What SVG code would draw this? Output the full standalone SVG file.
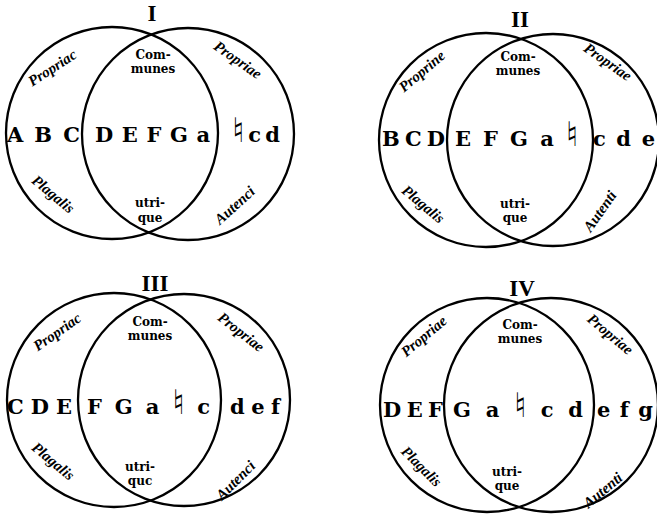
<svg xmlns="http://www.w3.org/2000/svg" width="657" height="514" viewBox="0 0 657 514">
<style>
.c{fill:none;stroke:#000;stroke-width:2.3}
.t{font-family:"Liberation Serif","DejaVu Serif",serif;font-weight:bold;font-size:23px;fill:#000;text-anchor:middle}
.n{font-family:"DejaVu Serif","Liberation Serif",serif;font-weight:bold;font-size:21px;fill:#000}
.nat{font-family:"DejaVu Sans",sans-serif;font-weight:bold;font-size:34px}
.s{font-family:"DejaVu Serif","Liberation Serif",serif;font-weight:bold;font-size:12px;fill:#000;text-anchor:middle}
.a{font-family:"Liberation Serif","DejaVu Serif",serif;font-style:italic;font-weight:bold;font-size:15px;fill:#000;text-anchor:middle}
</style>
<rect width="657" height="514" fill="#fff"/>
<g id="d1">
<circle class="c" cx="112" cy="133" r="106"/>
<circle class="c" cx="188" cy="134" r="106"/>
<text class="t" x="152" y="21">I</text>
<text class="n" x="7" y="142" textLength="73" lengthAdjust="spacing">ABC</text>
<text class="n" x="95" y="142" textLength="115" lengthAdjust="spacing">DEFGa</text>
<text class="n" x="232" y="142" textLength="48" lengthAdjust="spacing"><tspan class="nat">♮</tspan>cd</text>
<text class="s" x="153" y="59">Com-</text>
<text class="s" x="153" y="73">munes</text>
<text class="s" x="150" y="207">utri-</text>
<text class="s" x="150" y="222">que</text>
<text class="a" transform="translate(55,72) rotate(-33)">Propriac</text>
<text class="a" transform="translate(235,64) rotate(35)">Propriae</text>
<text class="a" transform="translate(50,198) rotate(40)">Plagalis</text>
<text class="a" transform="translate(238,209) rotate(-42)">Autenci</text>
</g>
<g id="d2">
<circle class="c" cx="486" cy="140" r="107"/>
<circle class="c" cx="553" cy="140" r="106"/>
<text class="t" x="520" y="27">II</text>
<text class="n" x="382" y="146" textLength="63" lengthAdjust="spacing">BCD</text>
<text class="n" x="455" y="146" textLength="123" lengthAdjust="spacing">EFGa<tspan class="nat">♮</tspan></text>
<text class="n" x="593" y="146" textLength="62" lengthAdjust="spacing">cde</text>
<text class="s" x="518" y="61">Com-</text>
<text class="s" x="518" y="75">munes</text>
<text class="s" x="515" y="208">utri-</text>
<text class="s" x="515" y="222">que</text>
<text class="a" transform="translate(425,75) rotate(-40)">Proprine</text>
<text class="a" transform="translate(605,66) rotate(35)">Propriae</text>
<text class="a" transform="translate(420,208) rotate(40)">Plagalis</text>
<text class="a" transform="translate(604,214) rotate(-55)">Autenti</text>
</g>
<g id="d3">
<circle class="c" cx="114" cy="400" r="107"/>
<circle class="c" cx="184" cy="400" r="106"/>
<text class="t" x="155" y="291">III</text>
<text class="n" x="7" y="414" textLength="65" lengthAdjust="spacing">CDE</text>
<text class="n" x="87" y="414" textLength="123" lengthAdjust="spacing">FGa<tspan class="nat">♮</tspan>c</text>
<text class="n" x="230" y="414" textLength="50" lengthAdjust="spacing">def</text>
<text class="s" x="150" y="326">Com-</text>
<text class="s" x="150" y="340">munes</text>
<text class="s" x="140" y="471">utri-</text>
<text class="s" x="140" y="485">quc</text>
<text class="a" transform="translate(60,336) rotate(-35)">Propriac</text>
<text class="a" transform="translate(238,336) rotate(38)">Propriae</text>
<text class="a" transform="translate(50,465) rotate(40)">Plagalis</text>
<text class="a" transform="translate(239,484) rotate(-45)">Autenci</text>
</g>
<g id="d4">
<circle class="c" cx="487" cy="405" r="107"/>
<circle class="c" cx="551" cy="405" r="107"/>
<text class="t" x="522" y="296">IV</text>
<text class="n" x="383" y="417" textLength="60" lengthAdjust="spacing">DEF</text>
<text class="n" x="453" y="417" textLength="130" lengthAdjust="spacing">Ga<tspan class="nat">♮</tspan>cd</text>
<text class="n" x="597" y="417" textLength="56" lengthAdjust="spacing">efg</text>
<text class="s" x="520" y="329">Com-</text>
<text class="s" x="520" y="343">munes</text>
<text class="s" x="507" y="476">utri-</text>
<text class="s" x="507" y="490">que</text>
<text class="a" transform="translate(427,340) rotate(-40)">Propriae</text>
<text class="a" transform="translate(607,338) rotate(40)">Propriae</text>
<text class="a" transform="translate(418,470) rotate(45)">Plagalis</text>
<text class="a" transform="translate(606,494) rotate(-40)">Autenti</text>
</g>
</svg>
